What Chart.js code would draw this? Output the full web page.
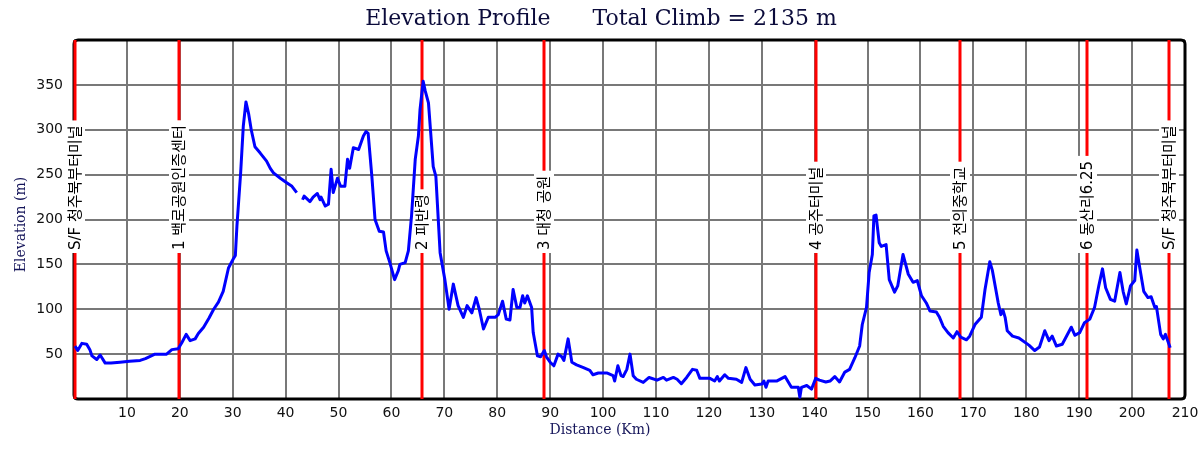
<!DOCTYPE html>
<html>
<head>
<meta charset="utf-8">
<script src="https://cdn.jsdelivr.net/npm/chart.js@4/dist/chart.umd.min.js"></script>
<style>
html,body{margin:0;padding:0;background:#fff;}
#wrap{width:1200px;height:450px;position:relative;}
</style>
</head>
<body>
<div id="wrap"><canvas id="c" width="1200" height="450"></canvas></div>
<script>
// ---------------- data ----------------
const titleText = 'Elevation Profile      Total Climb = 2135 m';
const xAxisTitle = 'Distance (Km)';
const yAxisTitle = 'Elevation (m)';

const distanceKm = [
  0.2, 0.7, 1.5, 2.4, 3.0, 3.4, 4.3, 4.95, 5.9, 7.0, 8.7, 10.5, 12.5, 13.5, 15.3, 17.5, 18.5, 19.7,
  20.4, 21.2, 21.95, 22.9, 23.5, 24.5, 25.5, 26.4, 27.3, 28.2, 29.2, 30.1, 30.5, 30.8, 31.5, 32.0,
  32.5, 33.0, 33.5, 34.2, 35.2, 36.4, 37.1, 37.7, 39.0, 40.2, 41.2, 42.1, 42.6,
  43.2, 43.5, 44.6, 45.2, 46.0, 46.5, 46.7, 47.5, 48.1, 48.6, 49.0, 49.8, 50.4, 51.2, 51.7, 52.1,
  52.8, 53.8, 54.7, 55.2, 55.6, 56.3, 56.9, 57.7, 58.5, 59.0, 59.7, 60.6, 61.3, 61.6, 62.6, 63.2,
  63.8, 64.5, 65.1, 65.4, 66.0, 66.4, 67.0, 67.9, 68.4, 69.2, 70.1, 70.9, 71.7, 72.6, 73.6, 74.3,
  75.2, 76.0, 76.6, 77.4, 78.3, 79.6, 80.2, 81.0, 81.7, 82.4, 83.0, 83.7, 84.3, 84.8, 85.2, 85.7,
  86.5, 86.8, 87.6, 88.2, 88.9, 89.3, 90.0, 90.7, 91.5, 92.2, 92.6, 93.4, 94.1, 95.0, 96.3, 97.5,
  98.1, 99.1, 100.7, 101.9, 102.2, 102.8, 103.4, 103.8, 104.5, 105.1, 105.7, 106.3, 107.6, 108.7,
  110.2, 111.4, 112.0, 113.3, 114.0, 114.8, 115.8, 116.9, 117.7, 118.3, 120.2, 121.1, 121.6, 122.0,
  123.0, 123.7, 125.2, 126.2, 127.0, 127.8, 128.7, 130.0, 130.4, 130.8, 131.2, 132.8, 134.4, 134.9,
  135.6, 136.9, 137.2, 137.5, 138.5, 139.4, 140.2, 140.9, 142.1, 142.9, 143.8, 144.7, 145.7, 146.6,
  147.6, 148.5, 149.0, 149.8, 150.3, 150.9, 151.2, 151.6, 152.2, 152.6, 153.5, 154.1, 155.1, 155.7,
  156.7, 157.7, 158.6, 159.4, 160.2, 161.1, 161.8, 163.0, 163.6, 164.3, 165.2, 166.2, 166.9, 167.6,
  168.7, 169.3, 170.3, 171.5, 172.2, 173.1, 173.6, 174.7, 175.2, 175.6, 176.0, 176.4, 177.4, 178.6,
  180.5, 181.6, 182.5, 183.5, 184.3, 184.9, 185.7, 186.8, 188.5, 189.2, 190.1, 191.0, 192.0, 192.9,
  193.7, 194.4, 195.0, 195.9, 196.7, 197.7, 198.3, 198.9, 199.7, 200.5, 200.9, 201.4, 202.2, 203.0,
  203.6, 204.3, 204.6, 205.4, 205.9, 206.3, 206.6, 207.2
];
const elevationM = [
  59, 54, 62, 61, 55, 48, 44, 49, 40, 40, 41, 42, 43, 45, 50, 50, 55, 56,
  63, 72, 65, 67, 73, 80, 90, 100, 108, 120, 146, 156, 160, 193, 252, 304,
  331, 318, 300, 281, 274, 265, 257, 252, 246, 241, 237, 230, null,
  222, 226, 220, 225, 229, 222, 225, 215, 217, 256, 230, 246, 237, 237, 267, 257,
  280, 278, 293, 298, 296, 248, 200, 187, 186, 165, 152, 133, 143, 150, 152, 165,
  204, 267, 293, 322, 354, 343, 330, 259, 248, 163, 133, 100, 128, 104, 91, 104,
  96, 113, 100, 78, 91, 91, 94, 109, 89, 88, 122, 102, 102, 115, 107, 115,
  102, 74, 48, 47, 54, 47, 41, 37, 50, 47, 43, 67, 41, 38, 35, 32,
  27, 29, 29, 26, 20, 37, 26, 25, 33, 50, 26, 22, 18.5, 24,
  21, 24, 21, 24, 22, 17, 24, 33, 32, 23, 23, 20, 25, 20,
  27, 23, 22, 18.5, 35, 22, 15.6, 16.7, 20, 13, 20, 20, 25, 20,
  13, 13, 2, 13, 15, 11, 23, 21, 19, 20, 25, 19, 30, 33,
  46, 59, 83, 102, 141, 161, 204, 205, 174, 170, 172, 133, 119, 126,
  161, 139, 130, 132, 115, 107, 98, 97, 91, 81, 74, 68, 75, 69,
  66, 70, 83, 91, 122, 153, 143, 107, 94, 99, 91, 76, 70, 68,
  60, 54, 58, 76, 65, 70, 59, 61, 80, 71, 74, 85, 89, 102,
  126, 145, 124, 111, 109, 141, 120, 106, 126, 132, 166, 148, 120, 113,
  114, 102, 103, 72, 67, 72, 67, 57
];

const markerKm = [0.2, 19.9, 65.8, 88.8, 140.3, 167.4, 191.4, 206.9];
const markerLabels = ['S/F 청주북부터미널', '1 백로공원인증센터', '2 피반령', '3 대청 공원',
                      '4 공주터미널', '5 전의중학교', '6 동산리6.25', 'S/F 청주북부터미널'];

const xTickValues = [0,10,20,30,40,50,60,70,80,90,100,110,120,130,140,150,160,170,180,190,200,210];
const xTickLabels = ['','10','20','30','40','50','60','70','80','90','100','110','120','130','140','150','160','170','180','190','200','210'];
const yTickValues = [0,50,100,150,200,250,300,350,400];
const yTickLabels = ['','50','100','150','200','250','300','350',''];

// ---------------- drawing ----------------
const TICK_FONT = {family:'"DejaVu Sans", "Noto Sans CJK KR", sans-serif', size:14};
const SERIF = '"DejaVu Serif", "Liberation Serif", serif';

const points = distanceKm.map((d,i)=>({x:d, y:elevationM[i]}));

const overlay = {
  id:'overlay',
  beforeDatasetsDraw(chart){
    const {ctx, chartArea:a, scales:{x}} = chart;
    ctx.save();
    // frame
    ctx.strokeStyle = '#000';
    ctx.lineWidth = 3;
    ctx.beginPath();
    ctx.roundRect(a.left, a.top, a.right-a.left, a.bottom-a.top, 4);
    ctx.stroke();
    // markers
    ctx.font = '15px "DejaVu Sans", "Noto Sans CJK KR", sans-serif';
    const labelBase = a.top + 210;
    markerKm.forEach((km,i)=>{
      const px = Math.round(x.getPixelForValue(km));
      ctx.strokeStyle = '#ff0000';
      ctx.lineWidth = 3;
      ctx.beginPath(); ctx.moveTo(px, a.top); ctx.lineTo(px, a.bottom); ctx.stroke();
      const txt = markerLabels[i];
      const w = ctx.measureText(txt).width;
      ctx.fillStyle = '#fff';
      ctx.fillRect(px-10, labelBase - w - 5, 20, w + 8);
      ctx.save();
      ctx.translate(px, labelBase);
      ctx.rotate(-Math.PI/2);
      ctx.fillStyle = '#000';
      ctx.textAlign = 'left';
      ctx.textBaseline = 'middle';
      ctx.fillText(txt, 0, 1);
      ctx.restore();
    });
    ctx.restore();
  },
  afterDraw(chart){
    const {ctx, chartArea:a} = chart;
    ctx.save();
    // main title
    ctx.fillStyle = '#0b0b3b';
    ctx.font = '22px ' + SERIF;
    ctx.textAlign = 'center';
    ctx.textBaseline = 'middle';
    ctx.fillText(titleText, 601, 19);
    // axis titles
    ctx.fillStyle = '#15155a';
    ctx.font = '14px ' + SERIF;
    ctx.fillText(xAxisTitle, chart.width/2, 430);
    ctx.translate(21, (a.top + a.bottom)/2 + 5);
    ctx.rotate(-Math.PI/2);
    ctx.fillText(yAxisTitle, 0, 0);
    ctx.restore();
  }
};

new Chart(document.getElementById('c'), {
  type:'line',
  data:{datasets:[{
    data: points,
    borderColor:'#0000ff',
    borderWidth:3,
    borderJoinStyle:'round',
    pointRadius:0,
    tension:0,
    spanGaps:false,
    fill:false
  }]},
  options:{
    responsive:false,
    animation:false,
    events:[],
    layout:{padding:{left:0,right:15,top:40,bottom:0}},
    plugins:{
      legend:{display:false},
      tooltip:{enabled:false},
      title:{display:false}
    },
    scales:{
      x:{
        type:'linear', min:0, max:210,
        afterBuildTicks(s){ s.ticks = xTickValues.map(v=>({value:v})); },
        afterFit(s){ s.height = 51; s.paddingRight = 0; s.paddingLeft = 0; },
        grid:{color:'#787878', lineWidth:2, drawTicks:false},
        border:{display:false},
        ticks:{padding:6, color:'#111', font:TICK_FONT, maxRotation:0, autoSkip:false,
          callback(v){ const i = xTickValues.indexOf(v); return i>=0 ? xTickLabels[i] : ''; }}
      },
      y:{
        type:'linear', min:0, max:400,
        afterBuildTicks(s){ s.ticks = yTickValues.map(v=>({value:v})); },
        afterFit(s){ s.width = 74; s.paddingTop = 0; s.paddingBottom = 0; },
        grid:{color:'#787878', lineWidth:2, drawTicks:false},
        border:{display:false},
        ticks:{padding:11, color:'#111', font:TICK_FONT, autoSkip:false,
          callback(v){ const i = yTickValues.indexOf(v); return i>=0 ? yTickLabels[i] : ''; }}
      }
    }
  },
  plugins:[overlay]
});
</script>
</body>
</html>
